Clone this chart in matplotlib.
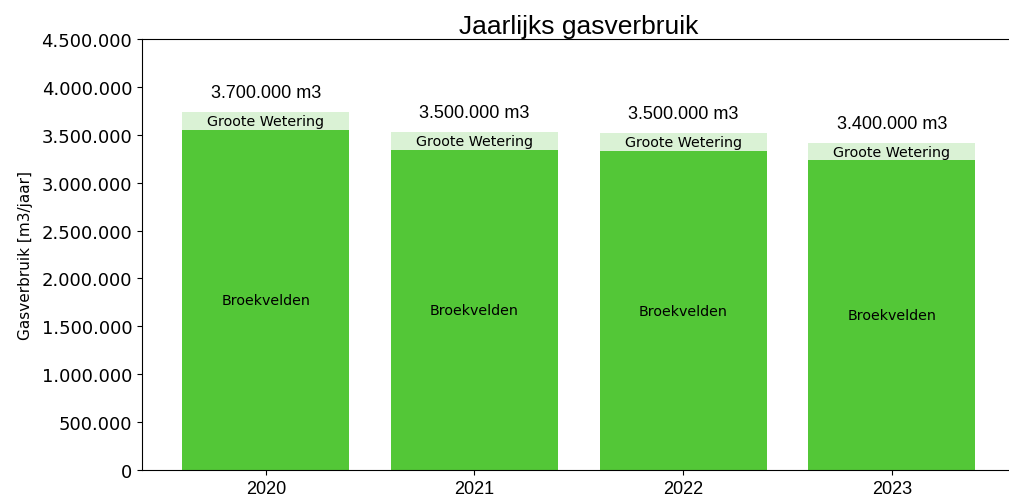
import matplotlib.pyplot as plt
from matplotlib.ticker import FuncFormatter

# Gegevens
jaren = ['2020', '2021', '2022', '2023']
broekvelden = [3550000, 3340000, 3330000, 3240000]
groote_wetering = [190000, 190000, 190000, 170000]

kleur_bv = '#53C737'
kleur_gw = '#DAF2D5'
arial = 'Liberation Sans'


def punt_format(v, pos=None):
    return f"{int(round(v)):,}".replace(',', '.')


fig = plt.figure(figsize=(10.09, 5.02), dpi=100)
ax = fig.add_axes([0.1407, 0.0618, 0.866, 0.8585])

x = range(len(jaren))
b1 = ax.bar(x, broekvelden, width=0.8, color=kleur_bv)
b2 = ax.bar(x, groote_wetering, width=0.8, bottom=broekvelden, color=kleur_gw)

for i in x:
    ax.text(i, broekvelden[i] / 2, 'Broekvelden', ha='center', va='center', fontsize=10.3)
    ax.text(i, broekvelden[i] + groote_wetering[i] / 2, 'Groote Wetering',
            ha='center', va='center', fontsize=10.3)
    totaal = broekvelden[i] + groote_wetering[i]
    ax.annotate(punt_format(round(totaal, -5)) + ' m3', (i, totaal),
                xytext=(0, 8), textcoords='offset points',
                ha='center', va='bottom', fontsize=13, family=arial)

ax.set_xlim(-0.593, 3.593)
ax.set_ylim(0, 4500000)
ax.set_yticks(range(0, 4500001, 500000))
ax.yaxis.set_major_formatter(FuncFormatter(punt_format))
ax.tick_params(axis='y', labelsize=13)
ax.set_xticks(list(x))
ax.set_xticklabels(jaren, fontsize=13, family=arial)
ax.set_ylabel('Gasverbruik [m3/jaar]', fontsize=11, labelpad=6)
ax.set_title('Jaarlijks gasverbruik', fontsize=19, family=arial, pad=4)
ax.spines['right'].set_visible(False)

plt.savefig('out.png')
plt.close()
